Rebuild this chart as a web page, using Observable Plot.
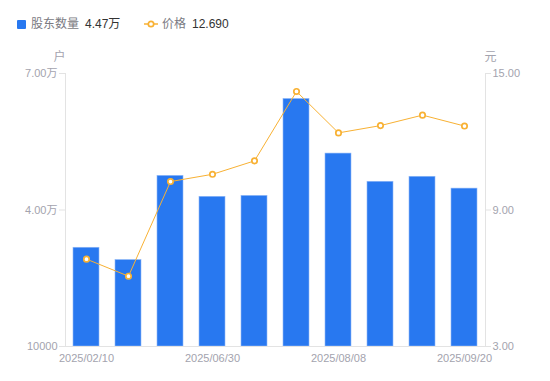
<!DOCTYPE html>
<html><head><meta charset="utf-8">
<script src="https://cdn.jsdelivr.net/npm/d3@7"></script>
<script src="https://cdn.jsdelivr.net/npm/@observablehq/plot@0.6"></script>
<style>
body{margin:0;background:#fff;font-family:"Liberation Sans",Arial,"Noto Sans CJK SC",sans-serif;}
#legend{position:relative;height:48px;font-size:12px;}
#legend span{position:absolute;top:17px;line-height:14px;white-space:nowrap}
.sq{position:absolute;left:17px;top:20px;width:9px;height:9px;background:#2878f0;border-radius:1px}
</style></head><body>
<div id="legend">
  <div class="sq"></div>
  <span style="left:31px;color:#7a7a82">股东数量</span>
  <span style="left:85px;color:#333">4.47万</span>
  <svg style="position:absolute;left:144px;top:19px" width="14" height="10"><line x1="0" y1="5" x2="14" y2="5" stroke="#f8b133" stroke-width="1.5"/><circle cx="7" cy="5" r="2.7" fill="#fff" stroke="#f8b133" stroke-width="1.7"/></svg>
  <span style="left:162px;color:#7a7a82">价格</span>
  <span style="left:192px;color:#333">12.690</span>
</div>
<div id="chart"></div>
<script>
const dates = ["2025/02/10","2025/03/31","2025/06/20","2025/06/30","2025/07/10","2025/07/31","2025/08/08","2025/08/31","2025/09/10","2025/09/20"];
const holders = [31700, 29000, 47500, 42900, 43100, 64400, 52400, 46200, 47300, 44700];
const prices = [6.84, 6.09, 10.25, 10.57, 11.16, 14.21, 12.39, 12.71, 13.17, 12.69];
const xTicks = ["2025/02/10","2025/06/30","2025/08/08","2025/09/20"];
const leftTicks = [10000, 40000, 70000];
const rightTicks = [3, 9, 15];

const yMin = 10000, yMax = 70000, pMin = 3, pMax = 15;
const p2y = p => yMin + (p - pMin) / (pMax - pMin) * (yMax - yMin);
const y2p = v => pMin + (v - yMin) / (yMax - yMin) * (pMax - pMin);

const data = dates.map((d, i) => ({date: d, holders: holders[i], price: prices[i], py: p2y(prices[i])}));
const gray = "#a3a3ae";
const axisCol = "#e3e3e3";

const chart = Plot.plot({
  width: 550, height: 333,
  marginTop: 25, marginBottom: 35, marginLeft: 65, marginRight: 65,
  style: {fontFamily: '"Liberation Sans",Arial,"Noto Sans CJK SC",sans-serif', fontSize: "11px", color: gray, background: "#fff"},
  x: {type: "band", domain: dates, paddingInner: 0.38, paddingOuter: 0.19},
  y: {domain: [yMin, yMax]},
  marks: [
    Plot.barY(data, {x: "date", y1: yMin, y2: "holders", fill: "#2878f0", stroke: "#8fb7f7", strokeWidth: 0.6}),
    Plot.ruleY([yMin], {stroke: axisCol}),
    Plot.frame({anchor: "left", stroke: axisCol}),
    Plot.frame({anchor: "right", stroke: axisCol}),
    Plot.axisY({anchor: "left", ticks: leftTicks, tickSize: 6, tickPadding: 2, stroke: axisCol, fill: gray,
      tickFormat: d => d === 10000 ? "10000" : (d / 10000).toFixed(2) + "万", label: null}),
    Plot.axisY({anchor: "right", ticks: rightTicks.map(p2y), tickSize: 5, tickPadding: 2, stroke: axisCol, fill: gray,
      tickFormat: d => y2p(d).toFixed(2), label: null}),
    Plot.axisX({ticks: xTicks, tickSize: 0, tickPadding: 8, fill: gray, label: null}),
    Plot.line(data, {x: "date", y: "py", stroke: "#f8b133", strokeWidth: 1}),
    Plot.dot(data, {x: "date", y: "py", r: 2.7, fill: "#fff", stroke: "#f8b133", strokeWidth: 1.7}),
    Plot.text(["户"], {frameAnchor: "top-left", dx: -12, dy: -21, fill: gray, fontSize: 12}),
    Plot.text(["元"], {frameAnchor: "top-right", dx: 11, dy: -21, fill: gray, fontSize: 12})
  ]
});
document.getElementById("chart").appendChild(chart);
</script>
</body></html>
